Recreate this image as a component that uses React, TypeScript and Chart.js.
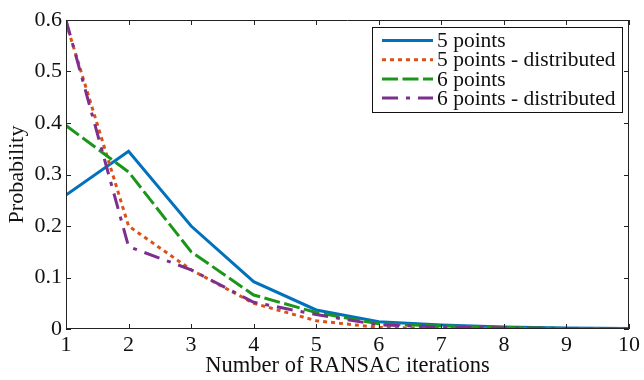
import React, { useEffect, useRef } from "react";
import { Chart, registerables } from "chart.js";

Chart.register(...registerables);

const iterations = [1, 2, 3, 4, 5, 6, 7, 8, 9, 10];
const fivePoints = [0.26, 0.345, 0.2, 0.092, 0.037, 0.014, 0.008, 0.004, 0.002, 0.001];
const fivePointsDistributed = [0.595, 0.2, 0.115, 0.05, 0.016, 0.003, 0.001, 0.001, 0.0, 0.0];
const sixPoints = [0.395, 0.305, 0.15, 0.066, 0.032, 0.01, 0.006, 0.003, 0.001, 0.0];
const sixPointsDistributed = [0.6, 0.16, 0.115, 0.052, 0.028, 0.008, 0.004, 0.002, 0.001, 0.0];
const seriesLabels = ["5 points", "5 points - distributed", "6 points", "6 points - distributed"];
const seriesColors = ["#0072BD", "#D95319", "#1B961B", "#7E2F8E"];
const seriesDashes = [[], [4, 4], [16, 4.5], [16, 8, 4, 8]];
const yTicks = [0, 0.1, 0.2, 0.3, 0.4, 0.5, 0.6];

const FONT = "'Liberation Serif', 'Times New Roman', serif";

const boxPlugin = {
  id: "boxTicks",
  afterDraw(chart: any) {
    const { ctx, chartArea: a, scales } = chart;
    const xs = scales.x;
    const ys = scales.y;
    ctx.save();
    ctx.strokeStyle = "#222";
    ctx.lineWidth = 1;
    ctx.beginPath();
    ctx.rect(a.left + 0.5, a.top + 0.5, a.right - a.left - 1, a.bottom - a.top - 1);
    ctx.stroke();
    const tl = 5;
    ctx.beginPath();
    for (const v of iterations) {
      const px = Math.round(xs.getPixelForValue(v)) + 0.5;
      ctx.moveTo(px, a.bottom);
      ctx.lineTo(px, a.bottom - tl);
      ctx.moveTo(px, a.top);
      ctx.lineTo(px, a.top + tl);
    }
    for (const v of yTicks) {
      const py = Math.round(ys.getPixelForValue(v)) + 0.5;
      ctx.moveTo(a.left, py);
      ctx.lineTo(a.left + tl, py);
      ctx.moveTo(a.right, py);
      ctx.lineTo(a.right - tl, py);
    }
    ctx.stroke();

    // legend
    const lx = 372.5, ly = 27.5, lw = 250, lh = 85;
    ctx.fillStyle = "#fff";
    ctx.fillRect(lx, ly, lw, lh);
    ctx.strokeStyle = "#111";
    ctx.lineWidth = 1;
    ctx.strokeRect(lx, ly, lw, lh);
    ctx.font = `21.5px ${FONT}`;
    ctx.textBaseline = "middle";
    ctx.textAlign = "left";
    chart.data.datasets.forEach((ds: any, i: number) => {
      const y = 40.5 + i * 19.2;
      ctx.save();
      ctx.strokeStyle = ds.borderColor;
      ctx.lineWidth = 3;
      ctx.setLineDash(ds.borderDash || []);
      ctx.beginPath();
      ctx.moveTo(382, y);
      ctx.lineTo(433, y);
      ctx.stroke();
      ctx.restore();
      ctx.fillStyle = "#111";
      ctx.fillText(ds.label, 437, y + 1);
    });
    ctx.restore();
  },
};

export default function App() {
  const ref = useRef<HTMLCanvasElement | null>(null);
  useEffect(() => {
    if (!ref.current) return;
    const allSeries = [fivePoints, fivePointsDistributed, sixPoints, sixPointsDistributed];
    const chart = new Chart(ref.current, {
      type: "line",
      data: {
        datasets: allSeries.map((s, i) => ({
          label: seriesLabels[i],
          data: iterations.map((x, j) => ({ x, y: s[j] })),
          borderColor: seriesColors[i],
          backgroundColor: seriesColors[i],
          borderDash: seriesDashes[i],
          borderWidth: 3,
          pointRadius: 0,
          tension: 0,
          fill: false,
          order: allSeries.length - i,
        })),
      },
      options: {
        animation: false,
        responsive: false,
        maintainAspectRatio: false,
        layout: { padding: { left: 0, top: 20, right: 15, bottom: 0 } },
        plugins: { legend: { display: false }, tooltip: { enabled: false } },
        scales: {
          x: {
            type: "linear",
            min: 1,
            max: 10,
            grid: { display: false, drawTicks: false },
            border: { display: false },
            ticks: {
              stepSize: 1,
              color: "#111",
              padding: 3,
              font: { family: FONT, size: 22 },
              maxRotation: 0,
            },
            title: {
              display: true,
              text: "Number of RANSAC iterations",
              color: "#111",
              font: { family: FONT, size: 22.5 },
              padding: { top: 0, bottom: 0 },
            },
            afterFit: (s: any) => {
              s.height = 51;
            },
          },
          y: {
            min: 0,
            max: 0.6,
            grid: { display: false, drawTicks: false },
            border: { display: false },
            afterBuildTicks: (s: any) => {
              s.ticks = yTicks.map((v) => ({ value: v }));
            },
            ticks: {
              color: "#111",
              padding: 4,
              font: { family: FONT, size: 22 },
              callback: (v: any) => String(v),
            },
            title: {
              display: true,
              text: "Probability",
              color: "#111",
              font: { family: FONT, size: 22 },
              padding: { top: 4, bottom: 0 },
            },
            afterFit: (s: any) => {
              s.width = 66;
            },
          },
        },
      },
      plugins: [boxPlugin],
    });
    return () => chart.destroy();
  }, []);
  return (
    <div style={{ position: "absolute", left: 0, top: 0, width: 644, height: 380, background: "#fff" }}>
      <canvas ref={ref} width={644} height={380} style={{ width: 644, height: 380 }} />
    </div>
  );
}
